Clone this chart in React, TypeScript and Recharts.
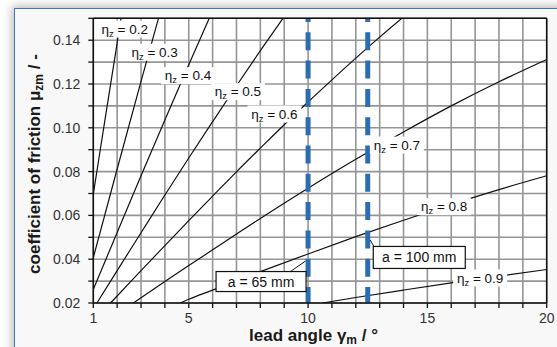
import React from 'react';
import { ComposedChart, Line, XAxis, YAxis, CartesianGrid, ReferenceLine } from 'recharts';

const FONT = '"Liberation Sans", Arial, Helvetica, sans-serif';

// Axis ticks and their labels
const xTicks = [1, 2, 3, 4, 5, 6, 7, 8, 9, 10, 11, 12, 13, 14, 15, 16, 17, 18, 19, 20];
const xTickLabels = ['1', '', '', '', '5', '', '', '', '', '10', '', '', '', '', '15', '', '', '', '', '20'];
const yTicks = [0.02, 0.03, 0.04, 0.05, 0.06, 0.07, 0.08, 0.09, 0.1, 0.11, 0.12, 0.13, 0.14, 0.15];
const yTickLabels = ['0.02', '', '0.04', '', '0.06', '', '0.08', '', '0.10', '', '0.12', '', '0.14', ''];

// Efficiency curves (lead angle in degrees, coefficient of friction)
const eta02Angle = [1, 1.5, 2, 2.16];
const eta02Mu = [0.0697, 0.1044, 0.1388, 0.15];
const eta03Angle = [1, 2, 3, 3.73];
const eta03Mu = [0.0407, 0.0812, 0.1212, 0.15];
const eta04Angle = [1, 2, 3, 4, 5, 5.86];
const eta04Mu = [0.0262, 0.0522, 0.0781, 0.1036, 0.1288, 0.15];
const eta05Angle = [1.15, 2, 3, 4, 5, 6, 7, 8, 8.95];
const eta05Mu = [0.02, 0.0348, 0.0521, 0.0693, 0.0862, 0.1028, 0.1192, 0.1352, 0.15];
const eta06Angle = [1.72, 2, 3, 4, 5, 6, 7, 8, 9, 10, 11, 12, 13, 13.93];
const eta06Mu = [0.02, 0.0232, 0.0348, 0.0462, 0.0576, 0.0688, 0.0799, 0.0907, 0.1014, 0.1118, 0.1219, 0.1318, 0.1414, 0.15];
const eta07Angle = [2.68, 3, 4, 5, 6, 7, 8, 10, 12, 14, 16, 18, 20];
const eta07Mu = [0.02, 0.0224, 0.0298, 0.0371, 0.0443, 0.0515, 0.0586, 0.0724, 0.0856, 0.0981, 0.11, 0.121, 0.1312];
const eta08Angle = [4.65, 5, 6, 8, 10, 12, 14, 16, 18, 20];
const eta08Mu = [0.02, 0.0217, 0.0259, 0.0343, 0.0424, 0.0503, 0.0578, 0.065, 0.0718, 0.0781];
const eta09Angle = [10.6, 12, 14, 16, 18, 20];
const eta09Mu = [0.02, 0.0225, 0.0259, 0.0292, 0.0323, 0.0353];

// Curve labels
const etaNames = ['0.2', '0.3', '0.4', '0.5', '0.6', '0.7', '0.8', '0.9'];
const etaLabelAngle = [2.32, 3.57, 4.97, 7.06, 8.59, 13.72, 15.7, 17.21];
const etaLabelMu = [0.1451, 0.1345, 0.1238, 0.1165, 0.1063, 0.0921, 0.064, 0.0314];

// Centre distance markers
const markerAngles = [10, 12.5];
const markerTexts = ['a = 65 mm', 'a = 100 mm'];
const markerBoxAngle = [8.03, 14.66];
const markerBoxMu = [0.0298, 0.0408];
const markerBoxWidth = [90, 92];
const markerBoxHeight = [20, 22];
const pointer65Angle = [9.29, 9.9];
const pointer65Mu = [0.0346, 0.0392];
const pointer100Angle = [12.77, 12.6];
const pointer100Mu = [0.0456, 0.0488];

const toPts = (g: number[], m: number[]) => g.map((v, i) => ({ g: v, mu: m[i] }));

const curves = [
  toPts(eta02Angle, eta02Mu),
  toPts(eta03Angle, eta03Mu),
  toPts(eta04Angle, eta04Mu),
  toPts(eta05Angle, eta05Mu),
  toPts(eta06Angle, eta06Mu),
  toPts(eta07Angle, eta07Mu),
  toPts(eta08Angle, eta08Mu),
  toPts(eta09Angle, eta09Mu),
];

const etaLabelData = etaNames.map((n, i) => ({ g: etaLabelAngle[i], mu: etaLabelMu[i], name: n }));
const boxData = markerTexts.map((t, i) => ({
  g: markerBoxAngle[i],
  mu: markerBoxMu[i],
  name: t,
  w: markerBoxWidth[i],
  h: markerBoxHeight[i],
}));

const renderEtaLabel = (props: any) => {
  const { cx, cy, payload, index } = props;
  return (
    <g key={'el' + index}>
      <rect x={cx - 27} y={cy - 8.5} width={54} height={17} fill="#ffffff" />
      <text x={cx} y={cy + 4.8} textAnchor="middle" fontSize={13.5} fontFamily={FONT} fill="#111">
        η<tspan dy={3} fontSize={9.5}>z</tspan>
        <tspan dy={-3}>{' = ' + payload.name}</tspan>
      </text>
    </g>
  );
};

const renderBox = (props: any) => {
  const { cx, cy, payload, index } = props;
  const w = payload.w;
  const h = payload.h;
  return (
    <g key={'bx' + index}>
      <rect x={cx - w / 2} y={cy - h / 2} width={w} height={h} fill="#ffffff" stroke="#111" strokeWidth={1.2} />
      <text x={cx} y={cy + 5} textAnchor="middle" fontSize={14} fontFamily={FONT} fill="#111">
        {payload.name}
      </text>
    </g>
  );
};

export default function App() {
  return (
    <div style={{ position: 'absolute', left: 0, top: 0, width: 557, height: 347, overflow: 'hidden', background: '#ffffff' }}>
      <div
        style={{
          position: 'absolute',
          left: 14,
          top: 7.5,
          width: 600,
          height: 400,
          background: '#f8f8f8',
          borderLeft: '1.5px solid #3a7cc3',
          borderTop: '1.5px solid #3a7cc3',
          boxShadow: '0 0 9px 2px rgba(0,0,0,0.28)',
        }}
      />
      <div style={{ position: 'absolute', left: 0, top: 0 }}>
        <ComposedChart width={557} height={347} margin={{ top: 18.3, right: 10.3, bottom: 14, left: 33.3 }}>
          <CartesianGrid stroke="#959595" strokeWidth={1.6} fill="#ffffff" />
          <XAxis
            dataKey="g"
            type="number"
            domain={[1, 20]}
            ticks={xTicks}
            interval={0}
            allowDataOverflow
            height={30}
            tickSize={5}
            tickMargin={5}
            tickFormatter={(v: any, i: number) => xTickLabels[i]}
            tick={{ fontSize: 14, fill: '#333', fontFamily: FONT }}
            axisLine={{ stroke: '#111', strokeWidth: 1.5 }}
            tickLine={{ stroke: '#111', strokeWidth: 1.3 }}
          />
          <YAxis
            type="number"
            domain={[0.02, 0.15]}
            ticks={yTicks}
            interval={0}
            allowDataOverflow
            width={60}
            tickSize={5}
            tickMargin={8}
            tickFormatter={(v: any, i: number) => yTickLabels[i]}
            tick={{ fontSize: 14, fill: '#333', fontFamily: FONT }}
            axisLine={{ stroke: '#111', strokeWidth: 1.5 }}
            tickLine={{ stroke: '#111', strokeWidth: 1.3 }}
          />
          {curves.map((pts, i) => (
            <Line
              key={'c' + i}
              data={pts}
              dataKey="mu"
              type="monotone"
              stroke="#111"
              strokeWidth={1.2}
              dot={false}
              activeDot={false}
              isAnimationActive={false}
            />
          ))}
          <Line data={toPts(pointer65Angle, pointer65Mu)} dataKey="mu" stroke="#111" strokeWidth={1} dot={false} activeDot={false} isAnimationActive={false} />
          <Line data={toPts(pointer100Angle, pointer100Mu)} dataKey="mu" stroke="#111" strokeWidth={1} dot={false} activeDot={false} isAnimationActive={false} />
          <Line
            data={etaLabelData}
            dataKey="mu"
            stroke="none"
            strokeWidth={0}
            dot={renderEtaLabel}
            activeDot={false}
            isAnimationActive={false}
          />
          <Line
            data={boxData}
            dataKey="mu"
            stroke="none"
            strokeWidth={0}
            dot={renderBox}
            activeDot={false}
            isAnimationActive={false}
          />
          {markerAngles.map((a, i) => (
            <Line
              key={'m' + i}
              data={[{ g: a, mu: 0.02 }, { g: a, mu: 0.15 }]}
              dataKey="mu"
              stroke="#2c6cb2"
              strokeWidth={5}
              strokeDasharray="18 10.3"
              strokeDashoffset={2}
              dot={false}
              activeDot={false}
              isAnimationActive={false}
            />
          ))}
          <ReferenceLine y={0.15} stroke="#111" strokeWidth={1.5} />
          <ReferenceLine x={20} stroke="#111" strokeWidth={1.5} />
        </ComposedChart>
      </div>
      <div
        style={{
          position: 'absolute',
          left: 313.5,
          top: 334.6,
          transform: 'translate(-50%, -50%)',
          whiteSpace: 'nowrap',
          fontFamily: FONT,
          fontWeight: 'bold',
          fontSize: 17,
          lineHeight: '17px',
          color: '#1a1a1a',
        }}
      >
        lead angle γ<sub style={{ fontSize: 12, verticalAlign: '-3px', lineHeight: 0 }}>m</sub> / °
      </div>
      <div
        style={{
          position: 'absolute',
          left: 34.1,
          top: 163.5,
          transform: 'translate(-50%, -50%) rotate(-90deg)',
          whiteSpace: 'nowrap',
          fontFamily: FONT,
          fontWeight: 'bold',
          fontSize: 17,
          lineHeight: '17px',
          color: '#1a1a1a',
        }}
      >
        coefficient of friction μ<sub style={{ fontSize: 12, verticalAlign: '-3px', lineHeight: 0 }}>zm</sub> / -
      </div>
    </div>
  );
}
